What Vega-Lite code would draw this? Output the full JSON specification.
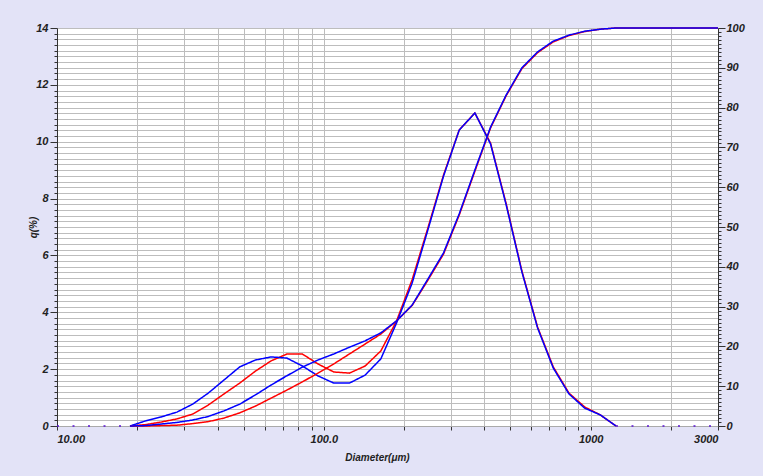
{
  "$schema": "https://vega.github.io/schema/vega-lite/v6.json",
  "autosize": "none",
  "width": 661,
  "height": 398,
  "padding": {"left": 57, "top": 28, "right": 45, "bottom": 50},
  "background": "#e3e3f7",
  "config": {
    "view": {"fill": "white", "stroke": null},
    "axis": {
      "labelFont": "Liberation Sans",
      "labelFontStyle": "italic",
      "labelFontWeight": "bold",
      "labelFontSize": 11,
      "labelColor": "#222222",
      "titleFont": "Liberation Sans",
      "titleFontStyle": "italic",
      "titleFontWeight": "bold",
      "titleFontSize": 10,
      "titleColor": "#222222",
      "tickColor": "#333333",
      "domainColor": "#333333",
      "gridColor": "#bdbdbd",
      "gridWidth": 1,
      "labelOverlap": false,
      "labelBound": false
    }
  },
  "datasets": {
    "q": [
      {"d": 10, "v": 0, "s": "dot", "g": "L"},
      {"d": 18.77, "v": 0, "s": "dot", "g": "L"},
      {"d": 1243.9, "v": 0, "s": "dot", "g": "R"},
      {"d": 3000, "v": 0, "s": "dot", "g": "R"},
      {"d": 18.77, "v": 0, "s": "red"},
      {"d": 21.49, "v": 0.05, "s": "red"},
      {"d": 24.6, "v": 0.14, "s": "red"},
      {"d": 28.17, "v": 0.25, "s": "red"},
      {"d": 32.25, "v": 0.42, "s": "red"},
      {"d": 36.92, "v": 0.74, "s": "red"},
      {"d": 42.27, "v": 1.13, "s": "red"},
      {"d": 48.39, "v": 1.51, "s": "red"},
      {"d": 55.4, "v": 1.93, "s": "red"},
      {"d": 63.42, "v": 2.29, "s": "red"},
      {"d": 72.61, "v": 2.53, "s": "red"},
      {"d": 83.13, "v": 2.53, "s": "red"},
      {"d": 95.17, "v": 2.18, "s": "red"},
      {"d": 108.96, "v": 1.9, "s": "red"},
      {"d": 124.74, "v": 1.86, "s": "red"},
      {"d": 142.8, "v": 2.11, "s": "red"},
      {"d": 163.5, "v": 2.64, "s": "red"},
      {"d": 187.2, "v": 3.69, "s": "red"},
      {"d": 214.3, "v": 5.15, "s": "red"},
      {"d": 245.3, "v": 6.96, "s": "red"},
      {"d": 280.9, "v": 8.83, "s": "red"},
      {"d": 321.6, "v": 10.41, "s": "red"},
      {"d": 368.1, "v": 11.01, "s": "red"},
      {"d": 421.5, "v": 9.95, "s": "red"},
      {"d": 482.5, "v": 7.81, "s": "red"},
      {"d": 552.4, "v": 5.45, "s": "red"},
      {"d": 632.4, "v": 3.48, "s": "red"},
      {"d": 724, "v": 2.08, "s": "red"},
      {"d": 828.8, "v": 1.16, "s": "red"},
      {"d": 949.1, "v": 0.67, "s": "red"},
      {"d": 1086.5, "v": 0.39, "s": "red"},
      {"d": 1243.9, "v": 0, "s": "red"},
      {"d": 18.77, "v": 0, "s": "blue"},
      {"d": 21.49, "v": 0.18, "s": "blue"},
      {"d": 24.6, "v": 0.32, "s": "blue"},
      {"d": 28.17, "v": 0.49, "s": "blue"},
      {"d": 32.25, "v": 0.77, "s": "blue"},
      {"d": 36.92, "v": 1.16, "s": "blue"},
      {"d": 42.27, "v": 1.62, "s": "blue"},
      {"d": 48.39, "v": 2.08, "s": "blue"},
      {"d": 55.4, "v": 2.32, "s": "blue"},
      {"d": 63.42, "v": 2.43, "s": "blue"},
      {"d": 72.61, "v": 2.39, "s": "blue"},
      {"d": 83.13, "v": 2.11, "s": "blue"},
      {"d": 95.17, "v": 1.76, "s": "blue"},
      {"d": 108.96, "v": 1.51, "s": "blue"},
      {"d": 124.74, "v": 1.51, "s": "blue"},
      {"d": 142.8, "v": 1.79, "s": "blue"},
      {"d": 163.5, "v": 2.36, "s": "blue"},
      {"d": 187.2, "v": 3.62, "s": "blue"},
      {"d": 214.3, "v": 5.03, "s": "blue"},
      {"d": 245.3, "v": 6.89, "s": "blue"},
      {"d": 280.9, "v": 8.79, "s": "blue"},
      {"d": 321.6, "v": 10.41, "s": "blue"},
      {"d": 368.1, "v": 11.01, "s": "blue"},
      {"d": 421.5, "v": 9.92, "s": "blue"},
      {"d": 482.5, "v": 7.77, "s": "blue"},
      {"d": 552.4, "v": 5.42, "s": "blue"},
      {"d": 632.4, "v": 3.45, "s": "blue"},
      {"d": 724, "v": 2.04, "s": "blue"},
      {"d": 828.8, "v": 1.13, "s": "blue"},
      {"d": 949.1, "v": 0.63, "s": "blue"},
      {"d": 1086.5, "v": 0.39, "s": "blue"},
      {"d": 1243.9, "v": 0, "s": "blue"}
    ],
    "cum": [
      {"d": 18.77, "v": 0, "s": "red"},
      {"d": 21.49, "v": 0, "s": "red"},
      {"d": 24.6, "v": 0.1, "s": "red"},
      {"d": 28.17, "v": 0.2, "s": "red"},
      {"d": 32.25, "v": 0.6, "s": "red"},
      {"d": 36.92, "v": 1.1, "s": "red"},
      {"d": 42.27, "v": 2.0, "s": "red"},
      {"d": 48.39, "v": 3.3, "s": "red"},
      {"d": 55.4, "v": 5.0, "s": "red"},
      {"d": 63.42, "v": 7.0, "s": "red"},
      {"d": 72.61, "v": 9.0, "s": "red"},
      {"d": 83.13, "v": 11.1, "s": "red"},
      {"d": 95.17, "v": 13.3, "s": "red"},
      {"d": 108.96, "v": 15.6, "s": "red"},
      {"d": 124.74, "v": 18.1, "s": "red"},
      {"d": 142.8, "v": 20.6, "s": "red"},
      {"d": 163.5, "v": 23.1, "s": "red"},
      {"d": 187.2, "v": 26.4, "s": "red"},
      {"d": 214.3, "v": 30.3, "s": "red"},
      {"d": 245.3, "v": 36.6, "s": "red"},
      {"d": 280.9, "v": 43.2, "s": "red"},
      {"d": 321.6, "v": 53.0, "s": "red"},
      {"d": 368.1, "v": 64.0, "s": "red"},
      {"d": 421.5, "v": 74.9, "s": "red"},
      {"d": 482.5, "v": 83.0, "s": "red"},
      {"d": 552.4, "v": 89.8, "s": "red"},
      {"d": 632.4, "v": 93.8, "s": "red"},
      {"d": 724, "v": 96.5, "s": "red"},
      {"d": 828.8, "v": 98.1, "s": "red"},
      {"d": 949.1, "v": 99.1, "s": "red"},
      {"d": 1086.5, "v": 99.7, "s": "red"},
      {"d": 1243.9, "v": 100, "s": "red"},
      {"d": 3000, "v": 100, "s": "red"},
      {"d": 18.77, "v": 0, "s": "blue"},
      {"d": 21.49, "v": 0.1, "s": "blue"},
      {"d": 24.6, "v": 0.5, "s": "blue"},
      {"d": 28.17, "v": 0.9, "s": "blue"},
      {"d": 32.25, "v": 1.5, "s": "blue"},
      {"d": 36.92, "v": 2.4, "s": "blue"},
      {"d": 42.27, "v": 3.8, "s": "blue"},
      {"d": 48.39, "v": 5.5, "s": "blue"},
      {"d": 55.4, "v": 7.8, "s": "blue"},
      {"d": 63.42, "v": 10.3, "s": "blue"},
      {"d": 72.61, "v": 12.6, "s": "blue"},
      {"d": 83.13, "v": 14.8, "s": "blue"},
      {"d": 95.17, "v": 16.6, "s": "blue"},
      {"d": 108.96, "v": 18.1, "s": "blue"},
      {"d": 124.74, "v": 19.8, "s": "blue"},
      {"d": 142.8, "v": 21.4, "s": "blue"},
      {"d": 163.5, "v": 23.4, "s": "blue"},
      {"d": 187.2, "v": 26.4, "s": "blue"},
      {"d": 214.3, "v": 30.4, "s": "blue"},
      {"d": 245.3, "v": 36.9, "s": "blue"},
      {"d": 280.9, "v": 43.5, "s": "blue"},
      {"d": 321.6, "v": 53.3, "s": "blue"},
      {"d": 368.1, "v": 64.3, "s": "blue"},
      {"d": 421.5, "v": 75.1, "s": "blue"},
      {"d": 482.5, "v": 83.2, "s": "blue"},
      {"d": 552.4, "v": 90.0, "s": "blue"},
      {"d": 632.4, "v": 94.0, "s": "blue"},
      {"d": 724, "v": 96.7, "s": "blue"},
      {"d": 828.8, "v": 98.2, "s": "blue"},
      {"d": 949.1, "v": 99.2, "s": "blue"},
      {"d": 1086.5, "v": 99.7, "s": "blue"},
      {"d": 1243.9, "v": 100, "s": "blue"},
      {"d": 3000, "v": 100, "s": "blue"}
    ]
  },
  "encoding": {
    "x": {
      "field": "d",
      "type": "quantitative",
      "scale": {"type": "log", "domain": [10, 3000], "nice": false},
      "axis": {
        "title": "Diameter(μm)",
        "values": [10, 20, 30, 40, 50, 60, 70, 80, 90, 100, 200, 300, 400, 500, 600, 700, 800, 900, 1000, 2000, 3000],
        "labelExpr": "datum.value == 10 ? '10.00' : (datum.value == 100 ? '100.0' : ((datum.value == 1000 || datum.value == 3000) ? format(datum.value, 'd') : ''))",
        "tickSize": 4,
        "labelPadding": 3,
        "grid": true,
        "domainColor": "#aaaaaa",
        "titleX": 320,
        "titlePadding": 8
      }
    },
    "color": {
      "field": "s",
      "type": "nominal",
      "scale": {"domain": ["red", "blue", "dot"], "range": ["#ff0000", "#0000ff", "#5a14d2"]},
      "legend": null
    },
    "strokeDash": {
      "field": "s",
      "type": "nominal",
      "scale": {"domain": ["red", "blue", "dot"], "range": [[1, 0], [1, 0], [2, 13.5]]},
      "legend": null
    },
    "detail": {"field": "g"}
  },
  "layer": [
    {
      "data": {"name": "q"},
      "mark": {"type": "line", "strokeWidth": 1.5, "clip": false},
      "encoding": {
        "y": {
          "field": "v",
          "type": "quantitative",
          "scale": {"domain": [0, 14], "nice": false, "zero": false},
          "axis": {
            "title": "q(%)",
            "orient": "left",
            "values": [0, 0.2, 0.4, 0.6, 0.8, 1, 1.2, 1.4, 1.6, 1.8, 2, 2.2, 2.4, 2.6, 2.8, 3, 3.2, 3.4, 3.6, 3.8, 4, 4.2, 4.4, 4.6, 4.8, 5, 5.2, 5.4, 5.6, 5.8, 6, 6.2, 6.4, 6.6, 6.8, 7, 7.2, 7.4, 7.6, 7.8, 8, 8.2, 8.4, 8.6, 8.8, 9, 9.2, 9.4, 9.6, 9.8, 10, 10.2, 10.4, 10.6, 10.8, 11, 11.2, 11.4, 11.6, 11.8, 12, 12.2, 12.4, 12.6, 12.8, 13, 13.2, 13.4, 13.6, 13.8, 14],
            "labelExpr": "abs(datum.value - round(datum.value / 2) * 2) < 0.001 ? format(datum.value, 'd') : ''",
            "tickSize": {"condition": {"test": "abs(datum.value - round(datum.value / 2) * 2) < 0.001", "value": 7}, "value": 3},
            "labelPadding": 2,
            "grid": true,
            "titleX": -24,
            "titleY": 199,
            "titleAngle": -90,
            "titleAlign": "center",
            "titleBaseline": "middle"
          }
        }
      }
    },
    {
      "data": {"name": "cum"},
      "mark": {"type": "line", "strokeWidth": 1.5, "clip": false},
      "encoding": {
        "y": {
          "field": "v",
          "type": "quantitative",
          "scale": {"domain": [0, 100], "nice": false, "zero": false},
          "axis": {
            "title": null,
            "orient": "right",
            "values": [0, 1, 2, 3, 4, 5, 6, 7, 8, 9, 10, 11, 12, 13, 14, 15, 16, 17, 18, 19, 20, 21, 22, 23, 24, 25, 26, 27, 28, 29, 30, 31, 32, 33, 34, 35, 36, 37, 38, 39, 40, 41, 42, 43, 44, 45, 46, 47, 48, 49, 50, 51, 52, 53, 54, 55, 56, 57, 58, 59, 60, 61, 62, 63, 64, 65, 66, 67, 68, 69, 70, 71, 72, 73, 74, 75, 76, 77, 78, 79, 80, 81, 82, 83, 84, 85, 86, 87, 88, 89, 90, 91, 92, 93, 94, 95, 96, 97, 98, 99, 100],
            "labelExpr": "datum.value % 10 == 0 ? format(datum.value, 'd') : ''",
            "tickSize": {"condition": {"test": "datum.value % 10 == 0", "value": 7}, "value": 3},
            "labelPadding": 1,
            "grid": false
          }
        }
      }
    }
  ],
  "resolve": {"scale": {"y": "independent"}}
}
